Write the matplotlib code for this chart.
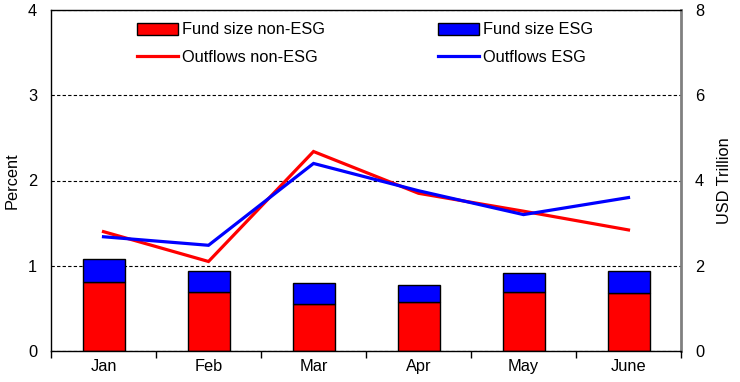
import matplotlib
matplotlib.use("Agg")
import matplotlib.pyplot as plt
import numpy as np
from matplotlib.patches import Patch
from matplotlib.lines import Line2D

plt.rcParams['font.family'] = ['Liberation Sans', 'DejaVu Sans']

months = ["Jan", "Feb", "Mar", "Apr", "May", "June"]
fund_non_esg = [1.61, 1.39, 1.10, 1.14, 1.39, 1.37]   # USD trillion
fund_esg = [0.56, 0.48, 0.49, 0.42, 0.43, 0.50]       # USD trillion
outflows_non_esg = [1.40, 1.05, 2.34, 1.85, 1.64, 1.42]  # percent
outflows_esg = [1.34, 1.24, 2.20, 1.88, 1.60, 1.80]      # percent

FS = 11.8

fig = plt.figure(figsize=(7.4, 3.82), dpi=100)
ax = fig.add_axes([51/740, 31/382, 630/740, 341/382])
ax2 = ax.twinx()
ax.set_zorder(2)
ax.patch.set_visible(False)
ax2.set_zorder(1)

x = np.arange(len(months))
ax2.set_ylim(0, 8)
ax2.set_yticks([0, 2, 4, 6, 8])
ax2.grid(axis='y', linestyle=(0, (3, 2)), color='black', linewidth=0.8)
ax2.set_axisbelow(True)
ax2.bar(x, fund_non_esg, width=0.4, color='#ff0000', edgecolor='black', linewidth=1.0, zorder=3)
ax2.bar(x, fund_esg, bottom=fund_non_esg, width=0.4, color='#0000ff', edgecolor='black', linewidth=1.0, zorder=3)

ax.plot(x, outflows_non_esg, color='#ff0000', linewidth=2.3, solid_joinstyle='miter')
ax.plot(x, outflows_esg, color='#0000ff', linewidth=2.3, solid_joinstyle='miter')

ax.set_xlim(-0.5, 5.5)
ax.set_ylim(0, 4)
ax.set_yticks([0, 1, 2, 3, 4])
ax.set_xticks(np.arange(-0.5, 6, 1))
ax.set_xticklabels([])
ax.set_xticks(x, minor=True)
ax.set_xticklabels(months, minor=True)
ax.tick_params(axis='x', which='major', length=5, direction='out', width=1)
ax.tick_params(axis='x', which='minor', length=0, pad=6, labelsize=FS)
ax.tick_params(axis='y', length=0, pad=10, labelsize=FS)
ax2.tick_params(axis='y', length=0, pad=10, labelsize=FS)

for s in ['left', 'bottom', 'top']:
    ax.spines[s].set_color('black')
    ax.spines[s].set_linewidth(1.0)
ax.spines['right'].set_visible(False)
ax2.spines['right'].set_color('#808080')
ax2.spines['right'].set_linewidth(2.0)
for s in ['left', 'bottom', 'top']:
    ax2.spines[s].set_visible(False)

ax.set_ylabel("Percent", fontsize=FS, labelpad=6)
ax2.set_ylabel("USD Trillion", fontsize=FS, labelpad=9)

common = dict(loc='upper left', frameon=False, fontsize=FS, handlelength=2.5,
              handleheight=0.72, handletextpad=0.25, labelspacing=0.78,
              borderaxespad=0, borderpad=0)
h1 = [Patch(facecolor='#ff0000', edgecolor='black', linewidth=1.0),
      Line2D([], [], color='#ff0000', linewidth=2.3)]
h2 = [Patch(facecolor='#0000ff', edgecolor='black', linewidth=1.0),
      Line2D([], [], color='#0000ff', linewidth=2.3)]
leg1 = ax.legend(h1, ["Fund size non-ESG", "Outflows non-ESG"],
                 bbox_to_anchor=((137 - 51) / 630, (351 - 22.5) / 341), **common)
ax.add_artist(leg1)
leg2 = ax.legend(h2, ["Fund size ESG", "Outflows ESG"],
                 bbox_to_anchor=((438 - 51) / 630, (351 - 22.5) / 341), **common)

fig.savefig("out.png", dpi=100)
